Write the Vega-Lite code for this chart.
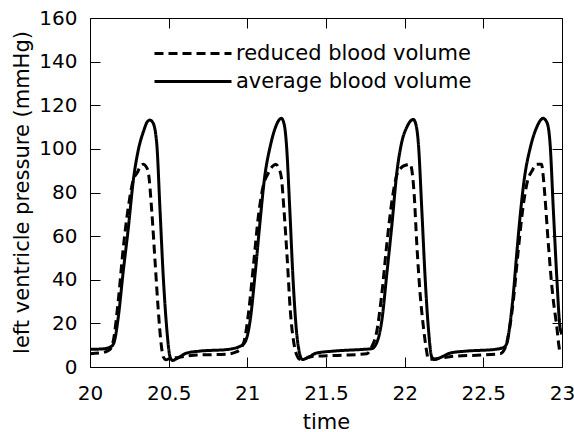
{
  "$schema": "https://vega.github.io/schema/vega-lite/v6.json",
  "width": 472,
  "height": 349,
  "autosize": {"type": "none"},
  "padding": {"left": 90, "top": 18, "right": 12, "bottom": 65},
  "background": "white",
  "config": {
    "view": {"stroke": "black", "strokeWidth": 1},
    "axis": {
      "domain": false,
      "grid": false,
      "tickColor": "black",
      "tickWidth": 1,
      "labelFont": "DejaVu Sans",
      "labelFontSize": 20,
      "labelColor": "black",
      "titleFont": "DejaVu Sans",
      "titleFontSize": 21,
      "titleFontWeight": "normal",
      "titleColor": "black"
    }
  },
  "data": {
    "values": [
      {"t": 20.0, "p": 8.1, "series": "average blood volume"},
      {"t": 20.08, "p": 8.3, "series": "average blood volume"},
      {"t": 20.13, "p": 9.2, "series": "average blood volume"},
      {"t": 20.15, "p": 10.7, "series": "average blood volume"},
      {"t": 20.18, "p": 23, "series": "average blood volume"},
      {"t": 20.21, "p": 43, "series": "average blood volume"},
      {"t": 20.244, "p": 64, "series": "average blood volume"},
      {"t": 20.276, "p": 86, "series": "average blood volume"},
      {"t": 20.307, "p": 99.5, "series": "average blood volume"},
      {"t": 20.34, "p": 108, "series": "average blood volume"},
      {"t": 20.365, "p": 112.5, "series": "average blood volume"},
      {"t": 20.381, "p": 113.2, "series": "average blood volume"},
      {"t": 20.4, "p": 112, "series": "average blood volume"},
      {"t": 20.424, "p": 102.6, "series": "average blood volume"},
      {"t": 20.445, "p": 72, "series": "average blood volume"},
      {"t": 20.466, "p": 41, "series": "average blood volume"},
      {"t": 20.487, "p": 18.4, "series": "average blood volume"},
      {"t": 20.509, "p": 4.6, "series": "average blood volume"},
      {"t": 20.526, "p": 3, "series": "average blood volume"},
      {"t": 20.55, "p": 3.8, "series": "average blood volume"},
      {"t": 20.615, "p": 6.4, "series": "average blood volume"},
      {"t": 20.7, "p": 7.3, "series": "average blood volume"},
      {"t": 20.87, "p": 8, "series": "average blood volume"},
      {"t": 20.954, "p": 9.5, "series": "average blood volume"},
      {"t": 20.986, "p": 11.5, "series": "average blood volume"},
      {"t": 21.018, "p": 21.4, "series": "average blood volume"},
      {"t": 21.05, "p": 43, "series": "average blood volume"},
      {"t": 21.08, "p": 66, "series": "average blood volume"},
      {"t": 21.11, "p": 87, "series": "average blood volume"},
      {"t": 21.145, "p": 101, "series": "average blood volume"},
      {"t": 21.177, "p": 109.5, "series": "average blood volume"},
      {"t": 21.216, "p": 114, "series": "average blood volume"},
      {"t": 21.235, "p": 111, "series": "average blood volume"},
      {"t": 21.248, "p": 102.6, "series": "average blood volume"},
      {"t": 21.27, "p": 72, "series": "average blood volume"},
      {"t": 21.29, "p": 41, "series": "average blood volume"},
      {"t": 21.31, "p": 18.4, "series": "average blood volume"},
      {"t": 21.333, "p": 6, "series": "average blood volume"},
      {"t": 21.35, "p": 3.4, "series": "average blood volume"},
      {"t": 21.39, "p": 4.6, "series": "average blood volume"},
      {"t": 21.44, "p": 6.4, "series": "average blood volume"},
      {"t": 21.55, "p": 7.3, "series": "average blood volume"},
      {"t": 21.717, "p": 8, "series": "average blood volume"},
      {"t": 21.79, "p": 8.4, "series": "average blood volume"},
      {"t": 21.82, "p": 10.7, "series": "average blood volume"},
      {"t": 21.855, "p": 21.4, "series": "average blood volume"},
      {"t": 21.887, "p": 43, "series": "average blood volume"},
      {"t": 21.92, "p": 66, "series": "average blood volume"},
      {"t": 21.95, "p": 89, "series": "average blood volume"},
      {"t": 21.98, "p": 102.6, "series": "average blood volume"},
      {"t": 22.014, "p": 110, "series": "average blood volume"},
      {"t": 22.055, "p": 113.5, "series": "average blood volume"},
      {"t": 22.072, "p": 111, "series": "average blood volume"},
      {"t": 22.087, "p": 102.6, "series": "average blood volume"},
      {"t": 22.109, "p": 72, "series": "average blood volume"},
      {"t": 22.13, "p": 41, "series": "average blood volume"},
      {"t": 22.15, "p": 18.4, "series": "average blood volume"},
      {"t": 22.172, "p": 4.6, "series": "average blood volume"},
      {"t": 22.19, "p": 3.4, "series": "average blood volume"},
      {"t": 22.226, "p": 4.3, "series": "average blood volume"},
      {"t": 22.29, "p": 6.4, "series": "average blood volume"},
      {"t": 22.395, "p": 7.3, "series": "average blood volume"},
      {"t": 22.565, "p": 8, "series": "average blood volume"},
      {"t": 22.63, "p": 9, "series": "average blood volume"},
      {"t": 22.65, "p": 11, "series": "average blood volume"},
      {"t": 22.67, "p": 20, "series": "average blood volume"},
      {"t": 22.69, "p": 33, "series": "average blood volume"},
      {"t": 22.71, "p": 50, "series": "average blood volume"},
      {"t": 22.735, "p": 70, "series": "average blood volume"},
      {"t": 22.76, "p": 86, "series": "average blood volume"},
      {"t": 22.8, "p": 101, "series": "average blood volume"},
      {"t": 22.84, "p": 110, "series": "average blood volume"},
      {"t": 22.88, "p": 114, "series": "average blood volume"},
      {"t": 22.905, "p": 112, "series": "average blood volume"},
      {"t": 22.924, "p": 102.6, "series": "average blood volume"},
      {"t": 22.945, "p": 72, "series": "average blood volume"},
      {"t": 22.967, "p": 41, "series": "average blood volume"},
      {"t": 22.987, "p": 18.4, "series": "average blood volume"},
      {"t": 23.0, "p": 15, "series": "average blood volume"},

      {"t": 20.0, "p": 6.1, "series": "reduced blood volume"},
      {"t": 20.1, "p": 7, "series": "reduced blood volume"},
      {"t": 20.127, "p": 8, "series": "reduced blood volume"},
      {"t": 20.148, "p": 12, "series": "reduced blood volume"},
      {"t": 20.18, "p": 30.6, "series": "reduced blood volume"},
      {"t": 20.21, "p": 53.6, "series": "reduced blood volume"},
      {"t": 20.244, "p": 73.5, "series": "reduced blood volume"},
      {"t": 20.276, "p": 86, "series": "reduced blood volume"},
      {"t": 20.3, "p": 89, "series": "reduced blood volume"},
      {"t": 20.32, "p": 92, "series": "reduced blood volume"},
      {"t": 20.34, "p": 93, "series": "reduced blood volume"},
      {"t": 20.355, "p": 92, "series": "reduced blood volume"},
      {"t": 20.37, "p": 89.5, "series": "reduced blood volume"},
      {"t": 20.392, "p": 72, "series": "reduced blood volume"},
      {"t": 20.413, "p": 49, "series": "reduced blood volume"},
      {"t": 20.434, "p": 26, "series": "reduced blood volume"},
      {"t": 20.45, "p": 12, "series": "reduced blood volume"},
      {"t": 20.466, "p": 4.6, "series": "reduced blood volume"},
      {"t": 20.483, "p": 3.3, "series": "reduced blood volume"},
      {"t": 20.51, "p": 4, "series": "reduced blood volume"},
      {"t": 20.55, "p": 4.3, "series": "reduced blood volume"},
      {"t": 20.66, "p": 5.4, "series": "reduced blood volume"},
      {"t": 20.87, "p": 5.9, "series": "reduced blood volume"},
      {"t": 20.93, "p": 6.9, "series": "reduced blood volume"},
      {"t": 20.975, "p": 10.7, "series": "reduced blood volume"},
      {"t": 21.007, "p": 24.5, "series": "reduced blood volume"},
      {"t": 21.04, "p": 47.5, "series": "reduced blood volume"},
      {"t": 21.07, "p": 69, "series": "reduced blood volume"},
      {"t": 21.1, "p": 82.7, "series": "reduced blood volume"},
      {"t": 21.134, "p": 89, "series": "reduced blood volume"},
      {"t": 21.16, "p": 92, "series": "reduced blood volume"},
      {"t": 21.18, "p": 93, "series": "reduced blood volume"},
      {"t": 21.2, "p": 91, "series": "reduced blood volume"},
      {"t": 21.216, "p": 87, "series": "reduced blood volume"},
      {"t": 21.233, "p": 72, "series": "reduced blood volume"},
      {"t": 21.254, "p": 49, "series": "reduced blood volume"},
      {"t": 21.273, "p": 26, "series": "reduced blood volume"},
      {"t": 21.3, "p": 9.2, "series": "reduced blood volume"},
      {"t": 21.32, "p": 4.6, "series": "reduced blood volume"},
      {"t": 21.336, "p": 3.4, "series": "reduced blood volume"},
      {"t": 21.42, "p": 4.9, "series": "reduced blood volume"},
      {"t": 21.61, "p": 5.4, "series": "reduced blood volume"},
      {"t": 21.76, "p": 6.1, "series": "reduced blood volume"},
      {"t": 21.79, "p": 9.2, "series": "reduced blood volume"},
      {"t": 21.82, "p": 15.3, "series": "reduced blood volume"},
      {"t": 21.855, "p": 33.7, "series": "reduced blood volume"},
      {"t": 21.887, "p": 56.7, "series": "reduced blood volume"},
      {"t": 21.92, "p": 76.6, "series": "reduced blood volume"},
      {"t": 21.95, "p": 88, "series": "reduced blood volume"},
      {"t": 21.98, "p": 91.5, "series": "reduced blood volume"},
      {"t": 22.01, "p": 92.6, "series": "reduced blood volume"},
      {"t": 22.035, "p": 93, "series": "reduced blood volume"},
      {"t": 22.05, "p": 88, "series": "reduced blood volume"},
      {"t": 22.06, "p": 79.6, "series": "reduced blood volume"},
      {"t": 22.077, "p": 56.6, "series": "reduced blood volume"},
      {"t": 22.098, "p": 33.7, "series": "reduced blood volume"},
      {"t": 22.119, "p": 18.4, "series": "reduced blood volume"},
      {"t": 22.14, "p": 7, "series": "reduced blood volume"},
      {"t": 22.15, "p": 3.5, "series": "reduced blood volume"},
      {"t": 22.2, "p": 3.8, "series": "reduced blood volume"},
      {"t": 22.31, "p": 4.9, "series": "reduced blood volume"},
      {"t": 22.46, "p": 5.4, "series": "reduced blood volume"},
      {"t": 22.607, "p": 6.1, "series": "reduced blood volume"},
      {"t": 22.64, "p": 9, "series": "reduced blood volume"},
      {"t": 22.66, "p": 15, "series": "reduced blood volume"},
      {"t": 22.69, "p": 30, "series": "reduced blood volume"},
      {"t": 22.72, "p": 52, "series": "reduced blood volume"},
      {"t": 22.75, "p": 72, "series": "reduced blood volume"},
      {"t": 22.78, "p": 85, "series": "reduced blood volume"},
      {"t": 22.81, "p": 90, "series": "reduced blood volume"},
      {"t": 22.84, "p": 93, "series": "reduced blood volume"},
      {"t": 22.87, "p": 93, "series": "reduced blood volume"},
      {"t": 22.88, "p": 88, "series": "reduced blood volume"},
      {"t": 22.89, "p": 79.6, "series": "reduced blood volume"},
      {"t": 22.913, "p": 56.6, "series": "reduced blood volume"},
      {"t": 22.94, "p": 33.7, "series": "reduced blood volume"},
      {"t": 22.967, "p": 18.4, "series": "reduced blood volume"},
      {"t": 22.984, "p": 8, "series": "reduced blood volume"},
      {"t": 22.995, "p": 6, "series": "reduced blood volume"}
    ]
  },
  "layer": [
    {
      "mark": {"type": "line", "color": "black", "strokeWidth": 3, "interpolate": "monotone", "clip": true},
      "encoding": {
        "x": {
          "field": "t", "type": "quantitative",
          "scale": {"domain": [20, 23], "nice": false, "zero": false},
          "axis": {"orient": "bottom", "title": "time", "values": [20, 20.5, 21, 21.5, 22, 22.5, 23], "format": "~g", "tickSize": -10, "labelPadding": 26, "titleBaseline": "middle", "titleY": 55, "labelFlush": false}
        },
        "y": {
          "field": "p", "type": "quantitative",
          "scale": {"domain": [0, 160], "nice": false},
          "axis": {"orient": "left", "title": "left ventricle pressure (mmHg)", "values": [0, 20, 40, 60, 80, 100, 120, 140, 160], "tickSize": -10, "labelPadding": 23, "titleBaseline": "middle", "titleX": -68, "titleY": 174, "labelFlush": false}
        },
        "strokeDash": {
          "field": "series", "type": "nominal",
          "scale": {"domain": ["reduced blood volume", "average blood volume"], "range": [[9, 5], [1, 0]]},
          "legend": {
            "orient": "none", "legendX": 91.5, "legendY": 24, "title": null,
            "symbolType": "M-3.85,0H3.85", "symbolSize": 400, "symbolStrokeWidth": 3, "symbolStrokeColor": "black",
            "labelFont": "DejaVu Sans", "labelFontSize": 21, "labelColor": "black", "labelOffset": 31.5, "labelLimit": 400,
            "rowPadding": 6, "padding": 0
          }
        },
        "detail": {"field": "series"}
      }
    },
    {
      "mark": {"type": "point", "opacity": 0},
      "encoding": {
        "x": {
          "field": "t", "type": "quantitative",
          "scale": {"domain": [20, 23], "nice": false, "zero": false},
          "axis": {"orient": "top", "title": null, "labels": false, "tickSize": -10, "values": [20, 20.5, 21, 21.5, 22, 22.5, 23]}
        },
        "y": {
          "field": "p", "type": "quantitative",
          "scale": {"domain": [0, 160], "nice": false},
          "axis": {"orient": "right", "title": null, "labels": false, "tickSize": -10, "values": [0, 20, 40, 60, 80, 100, 120, 140, 160]}
        }
      }
    }
  ],
  "resolve": {"axis": {"x": "independent", "y": "independent"}}
}
